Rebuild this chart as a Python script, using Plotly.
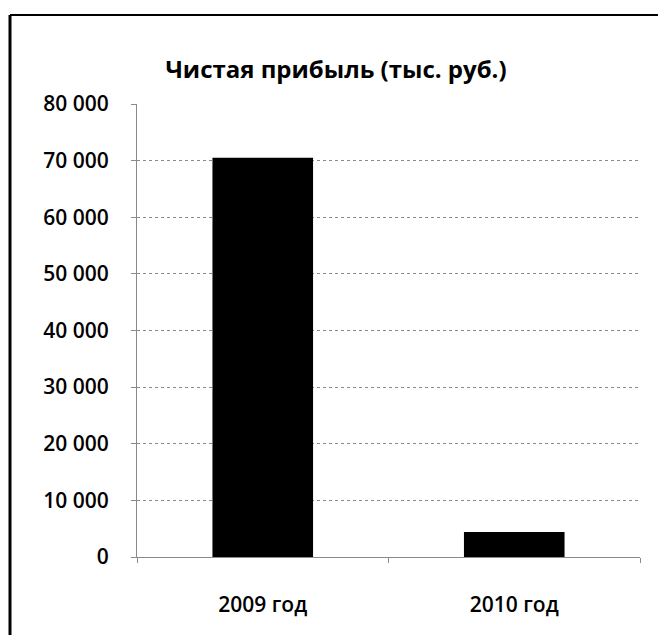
import plotly.graph_objects as go

categories = ["2009 год", "2010 год"]
values = [70500, 4400]
tick_vals = [0, 10000, 20000, 30000, 40000, 50000, 60000, 70000, 80000]
tick_text = ["0", "10 000", "20 000", "30 000", "40 000", "50 000", "60 000", "70 000", "80 000"]

font = "Open Sans"

fig = go.Figure(go.Bar(x=categories, y=values, marker=dict(color="black", line=dict(width=0)), width=0.4))

fig.update_layout(
    width=658, height=635,
    margin=dict(l=137, r=18, t=104, b=78),
    paper_bgcolor="white", plot_bgcolor="white",
    showlegend=False,
    title=dict(text="<b>Чистая прибыль (тыс. руб.)</b>", x=336 / 658, xanchor="center",
               xref="container",
               y=1 - 70 / 635, yanchor="middle",
               font=dict(family=font, size=24, color="black")),
    font=dict(family=font, color="black"),
)
fig.update_yaxes(range=[0, 80000], tickvals=tick_vals, ticktext=tick_text,
                 tickfont=dict(family=font, size=21, color="black", weight=600),
                 showgrid=True, gridcolor="#8a8a8a", griddash="dot", gridwidth=1,
                 showline=True, linecolor="#8a8a8a", linewidth=1,
                 ticks="outside", ticklen=5, tickcolor="#8a8a8a", ticklabelstandoff=18,
                 zeroline=False)
fig.update_xaxes(tickfont=dict(family=font, size=21, color="black", weight=600),
                 showline=True, linecolor="#8a8a8a", linewidth=1,
                 ticks="outside", ticklen=5, tickcolor="#8a8a8a", tickson="boundaries",
                 ticklabelstandoff=29, showgrid=False)

# chart border (left and top edges)
fig.add_shape(type="line", xref="paper", yref="paper",
              x0=(10 - 137) / 503, x1=(10 - 137) / 503, y0=(557 - 15) / 453, y1=-0.2,
              line=dict(color="black", width=3))
fig.add_shape(type="line", xref="paper", yref="paper",
              x0=(10 - 137) / 503, x1=1.1, y0=(557 - 15) / 453, y1=(557 - 15) / 453,
              line=dict(color="black", width=2))

fig.write_html("out.html", config={"displayModeBar": False},
               post_script="document.body.style.margin='0px';")
